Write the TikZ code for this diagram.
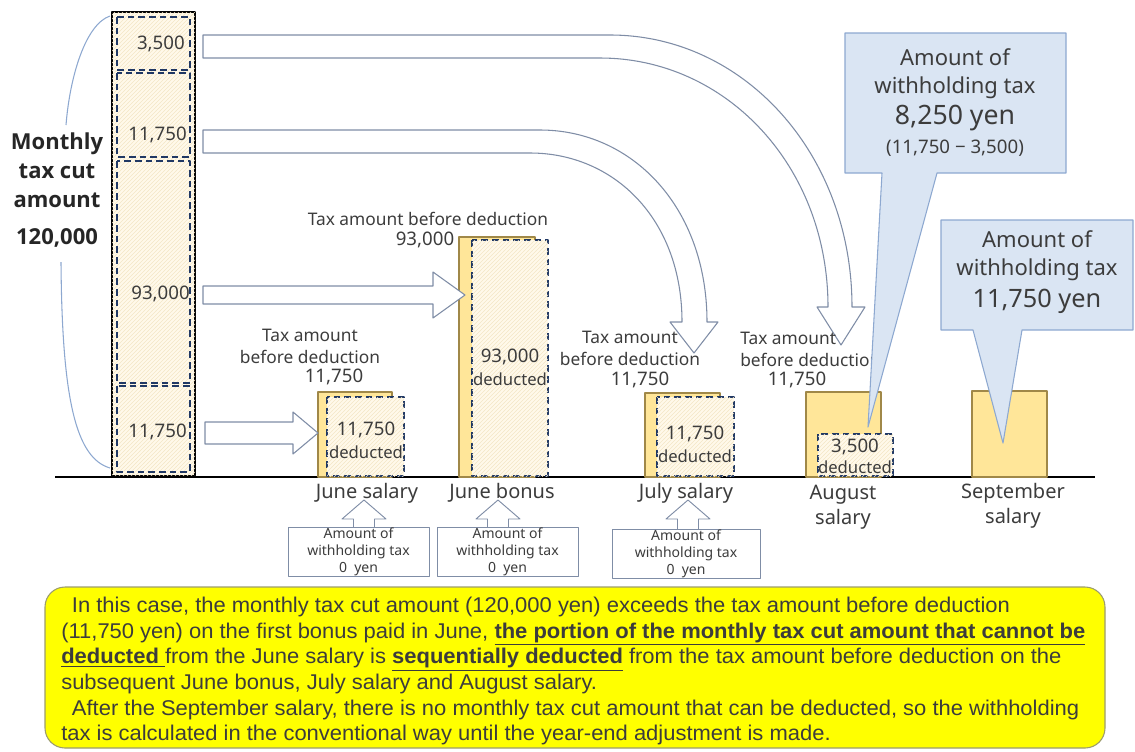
\documentclass[tikz,border=0pt]{standalone}
\usepackage{fontspec}
\setmainfont{Noto Sans}
\newfontfamily\titlefont{Open Sans}
\newfontfamily\notefont[FakeStretch=1.03]{Liberation Sans}
\usetikzlibrary{patterns,calc}
\definecolor{barfill}{HTML}{FFE699}
\definecolor{barline}{HTML}{A08848}
\definecolor{cream}{HTML}{FFF9EA}
\definecolor{hatch}{HTML}{F3E6C6}
\definecolor{navy}{HTML}{203864}
\definecolor{arrline}{HTML}{7F8DA6}
\definecolor{callfill}{HTML}{DAE5F3}
\definecolor{callline}{HTML}{8DA8D0}
\definecolor{txt}{HTML}{3C3C3C}
\definecolor{notefill}{HTML}{FFFF00}
\definecolor{noteline}{HTML}{9C9C6C}

\begin{document}
\begin{tikzpicture}[x=0.75pt, y=-0.75pt, line join=round,
    bar/.style = {draw=barline, fill=barfill, line width=0.9pt},
    cut/.style = {draw=navy, line width=1pt, dash pattern=on 5pt off 3pt, fill=cream, postaction={pattern=north east lines, pattern color=hatch}},
    blockarrow/.style = {draw=arrline, fill=white, line width=0.8pt},
    callout/.style = {draw=callline, fill=callfill, line width=0.8pt},
    lbl/.style = {text=txt, align=center, inner sep=0pt, font=\fontsize{13}{16.5}\selectfont},
    num/.style = {lbl, font=\fontsize{14}{16}\selectfont},
    ded/.style = {lbl, font=\fontsize{14}{17}\selectfont},
    month/.style = {lbl, font=\fontsize{15}{18.75}\selectfont},
    zero/.style = {draw=arrline, fill=white, line width=0.7pt, text=txt, inner sep=0pt, align=center, font=\fontsize{10.5}{12.8}\selectfont}]
\useasboundingbox (0,0) rectangle (1135,751);

% monthly tax cut column
\draw[line width=1.2pt, fill=cream, postaction={pattern=north east lines, pattern color=hatch}] (112,12) rectangle (195,476);
\foreach \top/\bot in {17/70, 73/157, 161/383, 386/472}
  \draw[navy, line width=1pt, dash pattern=on 5pt off 3pt] (117,\top) rectangle (190,\bot);
\node[num, anchor=east] (c1) at (185,44) {3,500};
\node[num, anchor=east] (c2) at (187,135) {11,750};
\node[num, anchor=east] (c3) at (190,294) {93,000};
\node[num, anchor=east] (c4) at (187,432) {11,750};

% bracket and title
\draw[callline, line width=0.8pt] (110,16) .. controls (86,24) and (70,75) .. (66,125);
\draw[callline, line width=0.8pt] (61,262) .. controls (62,400) and (76,458) .. (110,468);
\node[lbl, font=\titlefont\bfseries\fontsize{16.5}{21.75}\selectfont, text=black!85] (mtc) at (57,190) {Monthly\\tax cut\\amount\\[6pt]120,000};

% ground
\draw[line width=2pt] (55,477) -- (1095,477);

% bars
\draw[bar] (318,392) rectangle (392,477);
\draw[cut] (327,397) rectangle (404,476);
\draw[bar] (459,237) rectangle (535,477);
\draw[cut] (472,240) rectangle (548,476);
\draw[bar] (645,393) rectangle (720,477);
\draw[cut] (657,397) rectangle (734,476);
\draw[bar] (806,392) rectangle (881,477);
\draw[cut] (818,434) rectangle (893,476);
\draw[bar] (972,391) rectangle (1047,477);

\node[ded] (d1) at (366,440) {11,750\\{\fontsize{12.5}{17}\selectfont deducted}};
\node[ded] (d2) at (510,367) {93,000\\{\fontsize{12.5}{17}\selectfont deducted}};
\node[ded] (d3) at (695,444) {11,750\\{\fontsize{12.5}{17}\selectfont deducted}};
\node[ded, font=\fontsize{14}{16}\selectfont] (d4) at (855,456) {3,500\\{\fontsize{12.5}{16}\selectfont deducted}};

% block arrows
\draw[blockarrow] (203,35) -- (610,35) .. controls (744,35) and (852,154) .. (852,307) -- (865,307) -- (841,345) -- (817,307) -- (828,307) .. controls (828,166) and (726,58) .. (600,58) -- (203,58) -- cycle;
\draw[blockarrow] (203,130) -- (540,130) .. controls (632,130) and (707,207) .. (707,322) -- (718,322) -- (694,353) -- (670,322) -- (682,322) .. controls (682,219) and (614,153) .. (530,153) -- (203,153) -- cycle;
\draw[blockarrow] (203,286) -- (433,286) -- (433,272) -- (465,295) -- (433,318) -- (433,304) -- (203,304) -- cycle;
\draw[blockarrow] (205,422) -- (293,422) -- (293,412) -- (318,433) -- (293,454) -- (293,444) -- (205,444) -- cycle;

% tax amount labels
\node[lbl] (t1) at (310,346) {Tax amount\\before deduction};
\node[num] (v1) at (334,377) {11,750};
\node[lbl] (t2) at (428,219) {Tax amount before deduction};
\node[num] (v2) at (425,240) {93,000};
\node[lbl] (t3) at (630,348) {Tax amount\\before deduction};
\node[num] (v3) at (640,380) {11,750};
\node[lbl, anchor=west, align=left] (t4) at (740,349) {Tax amount\\before deduction};
\node[num] (v4) at (797,380) {11,750};

% months
\node[month] (m1) at (367,493) {June salary};
\node[month] (m2) at (502,493) {June bonus};
\node[month] (m3) at (686,493) {July salary};
\node[month] (m4) at (843,507) {August\\salary};
\node[month] (m5) at (1013,506) {September\\salary};

% zero withholding boxes
\foreach \cx in {364,498,688}
  \draw[blockarrow, line width=0.7pt] (\cx-10.5,529) -- (\cx-10.5,519) -- (\cx-22,519) -- (\cx,500) -- (\cx+22,519) -- (\cx+10.5,519) -- (\cx+10.5,529);
\node[zero, minimum width=105.75pt, minimum height=36pt] (z1) at (358.5,552) {Amount of\\withholding tax\\0\ \ yen};
\node[zero, minimum width=105.75pt, minimum height=36pt] (z2) at (507.5,552) {Amount of\\withholding tax\\0\ \ yen};
\node[zero, minimum width=111pt, minimum height=36pt] (z3) at (686,554) {Amount of\\withholding tax\\0\ \ yen};

% callouts
\draw[callout] (845,33) -- (1066,33) -- (1066,173) -- (937,173) -- (868,427) -- (882,173) -- (845,173) -- cycle;
\node[lbl, font=\fontsize{16.5}{21}\selectfont] (k1) at (955,74) {Amount of\\withholding tax};
\node[lbl, font=\fontsize{20}{22}\selectfont] (k1v) at (955,118) {8,250 yen};
\node[lbl, font=\fontsize{14}{15}\selectfont] (k1d) at (955,148) {(11,750 − 3,500)};
\draw[callout] (941,220) -- (1133,220) -- (1133,330) -- (1022,330) -- (1003,443) -- (973,330) -- (941,330) -- cycle;
\node[lbl, font=\fontsize{16.5}{21}\selectfont] (k2) at (1037,256) {Amount of\\withholding tax};
\node[lbl, font=\fontsize{19}{22}\selectfont] (k2v) at (1037,301) {11,750 yen};

% explanation
\draw[draw=noteline, fill=notefill, line width=0.8pt, rounded corners=15pt] (45,587) rectangle (1105,748);
\node[text=txt, anchor=north west, align=left, inner sep=0pt, font=\notefont\fontsize{16}{19.2}\selectfont] (note) at (61,597) {%
\hspace{0.5em}In this case, the monthly tax cut amount (120,000 yen) exceeds the tax amount before deduction\\
(11,750 yen) on the first bonus paid in June, \underline{\textbf{the portion of the monthly tax cut amount that cannot be}}\\
\underline{\textbf{deducted }}from the June salary is \underline{\textbf{sequentially deducted}} from the tax amount before deduction on the\\
subsequent June bonus, July salary and August salary.\\
\hspace{0.5em}After the September salary, there is no monthly tax cut amount that can be deducted, so the withholding\\
tax is calculated in the conventional way until the year-end adjustment is made.};
\end{tikzpicture}
\end{document}
